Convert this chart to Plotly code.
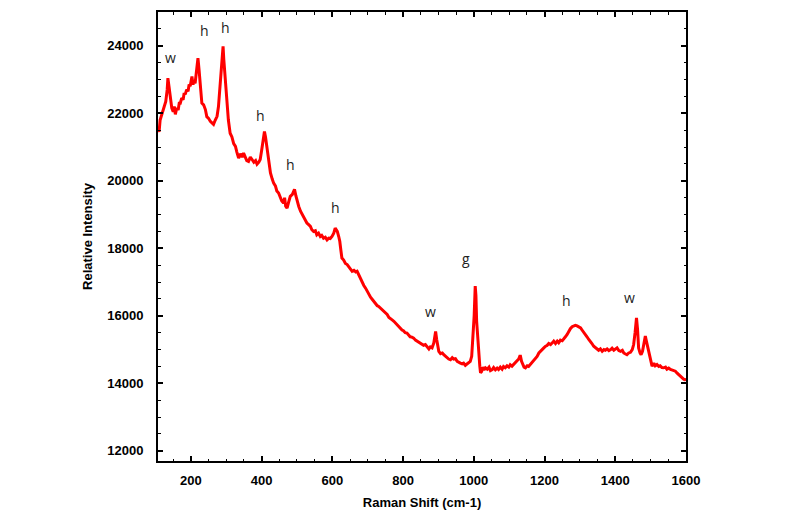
import plotly.graph_objects as go

raman_shift = [
    107, 110, 113, 117, 121, 125, 129, 133, 135, 138, 142, 146, 150, 153, 156, 160, 164, 167, 170, 174,
    178, 181, 184, 188, 192, 195, 198, 201, 203, 206, 209, 212, 216, 220, 223, 226, 229, 231, 236, 241,
    245, 250, 255, 260, 264, 269, 274, 278, 283, 287, 291, 293, 295, 298, 302, 306, 311, 316, 321, 326,
    330, 335, 340, 345, 349, 354, 358, 363, 368, 373, 378, 383, 387, 392, 396, 400, 404, 408, 411, 415,
    420, 425, 430, 434, 439, 443, 448, 452, 457, 462, 465, 468, 472, 476, 481, 487, 493, 497, 501, 505,
    510, 515, 519, 524, 528, 533, 538, 542, 547, 552, 556, 561, 566, 570, 575, 580, 585, 590, 594, 599,
    604, 608, 611, 614, 618, 621, 624, 627, 632, 637, 642, 647, 651, 656, 661, 666, 670, 675, 680, 684,
    689, 694, 698, 703, 708, 712, 717, 722, 727, 731, 736, 741, 746, 750, 755, 760, 765, 769, 774, 779,
    783, 788, 792, 797, 801, 806, 811, 816, 820, 825, 830, 835, 840, 844, 849, 854, 858, 863, 868, 873,
    877, 882, 887, 890, 892, 895, 898, 901, 906, 911, 915, 920, 925, 929, 934, 939, 943, 948, 953, 957,
    962, 967, 971, 976, 981, 986, 990, 994, 998, 1001, 1004, 1006, 1008, 1011, 1014, 1017, 1019, 1022, 1026, 1029,
    1033, 1038, 1043, 1047, 1052, 1056, 1061, 1066, 1070, 1075, 1080, 1084, 1089, 1094, 1099, 1103, 1108, 1113, 1118, 1123,
    1127, 1130, 1132, 1135, 1139, 1142, 1146, 1151, 1155, 1160, 1165, 1170, 1174, 1179, 1184, 1188, 1193, 1198, 1203, 1207,
    1212, 1217, 1222, 1226, 1231, 1236, 1240, 1245, 1250, 1254, 1259, 1264, 1268, 1273, 1278, 1283, 1287, 1292, 1297, 1302,
    1306, 1311, 1316, 1320, 1325, 1330, 1334, 1339, 1344, 1349, 1353, 1358, 1363, 1368, 1372, 1377, 1382, 1387, 1391, 1396,
    1400, 1405, 1410, 1415, 1420, 1424, 1429, 1433, 1438, 1443, 1448, 1452, 1456, 1460, 1463, 1466, 1470, 1473, 1477, 1481,
    1485, 1488, 1492, 1495, 1499, 1504, 1509, 1513, 1518, 1523, 1527, 1532, 1537, 1542, 1546, 1551, 1556, 1561, 1565, 1570,
    1575, 1580, 1584, 1589, 1594, 1598, 1600,
]

intensity = [
    21600, 21450, 21800, 21950, 22100, 22250, 22350, 22700, 23040, 22800, 22410, 22150, 22050, 22200, 21970, 22150, 22100, 22300, 22300, 22450,
    22400, 22600, 22560, 22700, 22650, 22850, 22800, 23000, 23090, 22850, 22950, 22890, 23200, 23630, 23300, 22800, 22450, 22300, 22250, 22110,
    21900, 21850, 21760, 21700, 21670, 21800, 21910, 22200, 22800, 23400, 23980, 23600, 23300, 22700, 22300, 21800, 21410, 21300, 21100, 21020,
    20850, 20670, 20800, 20700, 20820, 20700, 20600, 20575, 20700, 20630, 20550, 20600, 20490, 20550, 20630, 20900, 21200, 21460, 21300, 21020,
    20600, 20230, 20050, 19930, 19850, 19700, 19640, 19500, 19400, 19340, 19500, 19250, 19190, 19350, 19540, 19600, 19750, 19550, 19350, 19240,
    19100, 19000, 18950, 18850, 18750, 18700, 18650, 18550, 18500, 18520, 18400, 18450, 18350, 18380, 18300, 18330, 18250, 18300, 18290, 18350,
    18450, 18600, 18555, 18500, 18350, 18210, 17950, 17710, 17650, 17550, 17520, 17450, 17400, 17320, 17350, 17300, 17320, 17200, 17100, 17020,
    16900, 16820, 16730, 16650, 16550, 16500, 16430, 16380, 16300, 16280, 16230, 16150, 16100, 16080, 16040, 15950, 15920, 15880, 15840, 15780,
    15720, 15680, 15640, 15580, 15560, 15500, 15490, 15420, 15380, 15370, 15340, 15280, 15250, 15230, 15200, 15150, 15130, 15150, 15100, 15020,
    15080, 15050, 15200, 15450, 15540, 15300, 15050, 14950, 14880, 14900, 14850, 14800, 14780, 14720, 14700, 14760, 14720, 14730, 14650, 14620,
    14600, 14580, 14600, 14535, 14580, 14600, 14650, 14800, 15340, 16000, 16880, 16600, 15840, 15300, 14850, 14500, 14310, 14350, 14480, 14400,
    14460, 14420, 14480, 14380, 14410, 14470, 14400, 14450, 14410, 14480, 14420, 14500, 14460, 14520, 14480, 14550, 14510, 14560, 14600, 14650,
    14720, 14800, 14800, 14650, 14550, 14480, 14460, 14520, 14500, 14560, 14650, 14700, 14750, 14800, 14900, 14950, 15000, 15050, 15100, 15120,
    15180, 15150, 15200, 15250, 15180, 15250, 15200, 15280, 15260, 15300, 15380, 15450, 15540, 15620, 15680, 15700, 15720, 15700, 15680, 15640,
    15580, 15520, 15450, 15380, 15300, 15250, 15180, 15100, 15050, 15000, 14980, 15020, 14950, 15000, 14980, 15020, 14970, 15000, 15040, 14980,
    15000, 15050, 14970, 14950, 14980, 14900, 14870, 14850, 14900, 14920, 15000, 15150, 15500, 15940, 15600, 15050, 14900, 14850, 14950, 15200,
    15400, 15250, 15050, 14900, 14700, 14510, 14600, 14520, 14560, 14500, 14520, 14470, 14460, 14480, 14420, 14450, 14410, 14400, 14380, 14360,
    14300, 14250, 14210, 14180, 14120, 14110, 14080,
]

label_text = ["w", "h", "h", "h", "h", "h", "w", "g", "h", "w"]
label_x = [142, 238, 297, 396, 483, 609, 877, 979, 1261, 1439]
label_y = [23650, 24450, 24540, 21940, 20480, 19210, 16135, 17700, 16460, 16530]

x_ticks = [200, 400, 600, 800, 1000, 1200, 1400, 1600]
y_ticks = [12000, 14000, 16000, 18000, 20000, 22000, 24000]

fig = go.Figure()
fig.add_trace(go.Scatter(
    x=raman_shift, y=intensity, mode="lines",
    line=dict(color="#ff0000", width=3),
    showlegend=False, hoverinfo="skip",
))

for t, xv, yv in zip(label_text, label_x, label_y):
    fig.add_annotation(x=xv, y=yv, text=t, showarrow=False,
                       font=dict(family="Open Sans, Liberation Sans, sans-serif", size=14, color="#222"))

axis_common = dict(
    showline=True, linecolor="black", linewidth=2, mirror="allticks",
    ticks="inside", ticklen=5, tickwidth=1.5, tickcolor="black",
    showgrid=False, zeroline=False,
    tickfont=dict(family="Liberation Sans, Arial, sans-serif", size=13, color="black", weight="bold"),
)

fig.update_xaxes(
    range=[107, 1600], tickvals=x_ticks, tickformat="d", ticklabelstandoff=6,
    minor=dict(dtick=50, tick0=0, ticks="inside", ticklen=2.5, tickwidth=1.2, tickcolor="black"),
    title=dict(text="<b>Raman Shift (cm-1)</b>", standoff=11,
               font=dict(family="Liberation Sans, Arial, sans-serif", size=13, color="black")),
    **axis_common,
)
fig.update_yaxes(
    range=[11700, 25000], tickvals=y_ticks, tickformat="d", ticklabelstandoff=10,
    minor=dict(dtick=500, tick0=0, ticks="inside", ticklen=2.5, tickwidth=1.2, tickcolor="black"),
    title=dict(text="<b>Relative Intensity</b>", standoff=12,
               font=dict(family="Liberation Sans, Arial, sans-serif", size=13, color="black")),
    **axis_common,
)

fig.update_layout(
    width=800, height=531,
    margin=dict(l=158, r=114, t=12, b=70, autoexpand=False),
    plot_bgcolor="white", paper_bgcolor="white",
)

fig.write_html("out.html")
